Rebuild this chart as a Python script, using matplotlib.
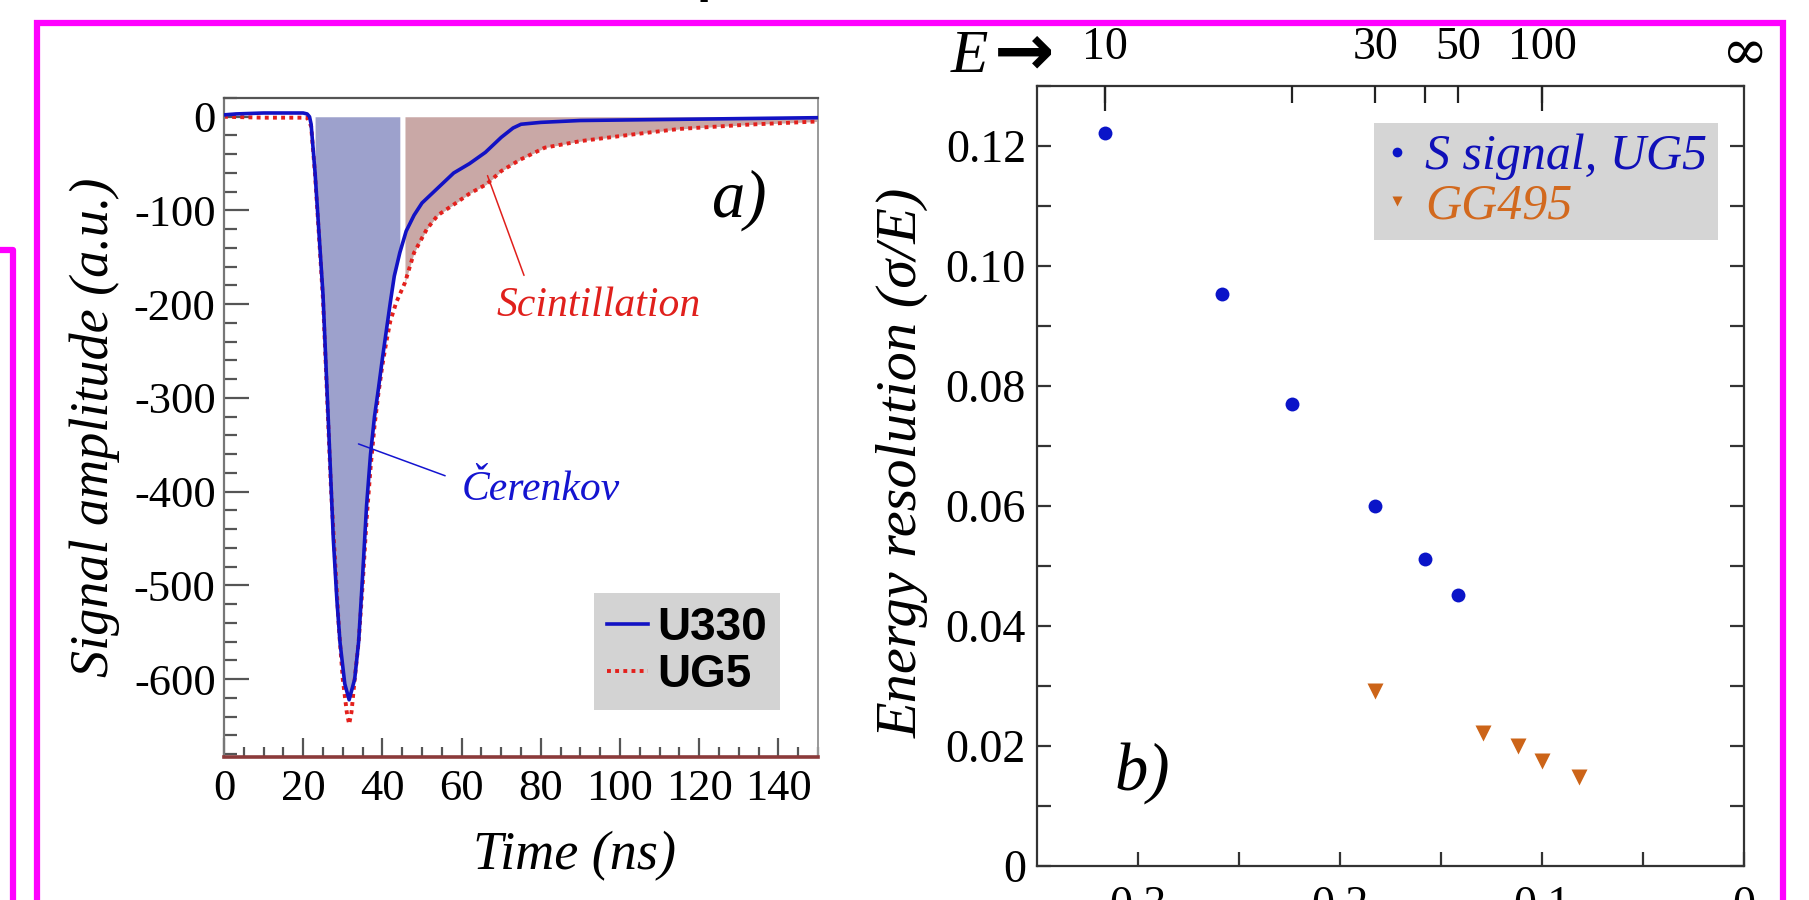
import numpy as np
import matplotlib
matplotlib.use("Agg")
import matplotlib.pyplot as plt
import matplotlib.transforms as mtransforms
from matplotlib.patches import Rectangle
from matplotlib.lines import Line2D
from matplotlib.ticker import MultipleLocator, FixedLocator

plt.rcParams['font.family'] = ['Liberation Serif', 'DejaVu Serif']
plt.rcParams['axes.unicode_minus'] = False

# ---------------- data: panel a (signal traces) ----------------
time_u330 = [0, 3, 10, 20, 21, 21.6, 22, 23, 24, 25, 26, 27, 27.6, 28.5, 29.3, 30.5, 31.6,
             33, 34, 35, 36, 37, 38, 39, 40, 41, 42, 43, 44.4, 46, 48, 50, 54, 58, 62,
             66, 70, 73, 75, 80, 90, 110, 130, 150]
amp_u330 = [2, 3, 4, 4, 3, 0, -8, -60, -125, -190, -290, -390, -450, -515, -561, -605, -622,
            -600, -560, -490, -415, -360, -320, -290, -258, -228, -198, -170, -145, -122, -105,
            -92, -76, -60, -50, -38, -22, -12, -8, -6, -4, -3, -2, -1]

time_ug5 = [0, 10, 21, 22, 23, 24, 25, 26, 27, 28, 29, 30, 31, 31.6, 32.2, 33, 34, 35, 36,
            37, 38, 39, 40, 41, 42, 43.5, 45.7, 48, 51.2, 54, 57.9, 62, 66.3, 70, 74.7, 81,
            90, 103, 115, 132, 150]
amp_ug5 = [0, -1, -1, -10, -62, -128, -195, -295, -395, -470, -545, -600, -635, -648, -635,
           -600, -560, -500, -430, -375, -330, -295, -265, -240, -218, -198, -177, -145, -120,
           -105, -94, -82, -72, -58, -46, -33, -26, -19, -13, -8.5, -5]

cerenkov_window = [23, 44.4]
scint_start = 45.7

# ---------------- data: panel b (energy resolution) ----------------
energy_s_ug5 = [10, 15, 20, 30, 40, 50]
res_s_ug5 = [0.1222, 0.0953, 0.0770, 0.0600, 0.0511, 0.0452]
energy_gg495 = [30, 60, 80, 100, 150]
res_gg495 = [0.0291, 0.0222, 0.0200, 0.0175, 0.0148]

top_E_labels = ['10', '30', '50', '100']
top_E_values = [10, 30, 50, 100]
bottom_x_ticks = [0.3, 0.2, 0.1, 0.0]
bottom_x_labels = ['0.3', '0.2', '0.1', '0']

W, H = 1809, 900
fig = plt.figure(figsize=(W / 100, H / 100), dpi=100)

# ================= panel a =================
ax1 = fig.add_axes([224 / W, 1 - 757 / H, 594 / W, 659 / H])
t_u = np.array(time_u330); a_u = np.array(amp_u330)
t_g = np.array(time_ug5); a_g = np.array(amp_ug5)

ax1.fill_between(t_u, a_u, 0, where=(t_u >= cerenkov_window[0]) & (t_u <= cerenkov_window[1]),
                 color='#9DA1CC', lw=0, zorder=1)
ax1.fill_between(t_g, a_g, 0, where=(t_g >= scint_start), color='#C9A8A6', lw=0, zorder=1)
ln_u, = ax1.plot(t_u, a_u, color='#1212C4', lw=2.6, zorder=3, label='U330')
ln_g, = ax1.plot(t_g, a_g, color='#E3201C', lw=2.8, ls=(0, (1, 1.1)), zorder=2, label='UG5')

ax1.set_xlim(0, 150)
ax1.set_ylim(-683, 20)
ax1.xaxis.set_major_locator(MultipleLocator(20))
ax1.xaxis.set_minor_locator(MultipleLocator(5))
ax1.yaxis.set_major_locator(FixedLocator([0, -100, -200, -300, -400, -500, -600]))
ax1.yaxis.set_minor_locator(MultipleLocator(20))
ax1.tick_params(axis='both', which='both', direction='in', top=False, right=False,
                colors='#555555', width=1.6, labelcolor='black', labelsize=32)
ax1.tick_params(axis='y', which='major', length=18, pad=6)
ax1.tick_params(axis='y', which='minor', length=9)
ax1.tick_params(axis='x', which='major', length=14, pad=9)
ax1.tick_params(axis='x', which='minor', length=7)
ax1.spines['top'].set_color('#555555'); ax1.spines['top'].set_linewidth(1.6)
ax1.spines['left'].set_color('#777777'); ax1.spines['left'].set_linewidth(1.6)
ax1.spines['right'].set_color('#999999'); ax1.spines['right'].set_linewidth(1.4)
ax1.spines['bottom'].set_color('#8B3A3A'); ax1.spines['bottom'].set_linewidth(2.6)

ax1.set_ylabel('Signal amplitude (a.u.)', fontsize=39, style='italic')
ax1.yaxis.set_label_coords(-0.175, 0.5)
ax1.set_xlabel('Time (ns)', fontsize=39, style='italic')
ax1.xaxis.set_label_coords(0.59, -0.112)

ax1.text(130, -89, 'a)', fontsize=48, style='italic', ha='center', va='center')
ax1.text(94.5, -202, 'Scintillation', fontsize=30, style='italic', color='#E0201C',
         ha='center', va='center')
ax1.annotate('', xy=(66.3, -60), xytext=(76, -172),
             arrowprops=dict(arrowstyle='-', color='#E0201C', lw=1.1))
ax1.text(80, -398, 'Čerenkov', fontsize=30, style='italic', color='#1414D0',
         ha='center', va='center')
ax1.annotate('', xy=(33.3, -348), xytext=(56.5, -384),
             arrowprops=dict(arrowstyle='-', color='#1414D0', lw=1.1))

leg1 = ax1.legend(handles=[ln_u, ln_g], loc='lower left', bbox_to_anchor=(0.623, 0.071),
                  prop=dict(family='Liberation Sans', weight='bold', size=33),
                  handlelength=0.9, handletextpad=0.2, borderpad=0.28, labelspacing=0.08,
                  frameon=True, fancybox=False, framealpha=1, borderaxespad=0)
leg1.get_frame().set_facecolor('#D3D3D3'); leg1.get_frame().set_edgecolor('none')

# ================= panel b =================
ax2 = fig.add_axes([1037 / W, 1 - 866 / H, 707 / W, 780 / H])
x_s = 1 / np.sqrt(np.array(energy_s_ug5, dtype=float))
x_g = 1 / np.sqrt(np.array(energy_gg495, dtype=float))
p1, = ax2.plot(x_s, res_s_ug5, 'o', color='#0A14C8', ms=10, mec='none',
               label='S signal, UG5', zorder=3)
p2, = ax2.plot(x_g, res_gg495, 'v', color='#CC6418', ms=11, mec='none', label='GG495', zorder=3)
ax2.set_xlim(0.35, 0.0)
ax2.set_ylim(0, 0.13)
ax2.set_xticks(bottom_x_ticks, bottom_x_labels)
ax2.xaxis.set_minor_locator(FixedLocator([0.25, 0.15, 0.05]))
ax2.yaxis.set_major_locator(FixedLocator([0, 0.02, 0.04, 0.06, 0.08, 0.10, 0.12]))
ax2.set_yticklabels(['0', '0.02', '0.04', '0.06', '0.08', '0.10', '0.12'])
ax2.yaxis.set_minor_locator(MultipleLocator(0.01))
ax2.tick_params(axis='both', which='both', direction='in', colors='#333333', width=1.6,
                labelcolor='black', labelsize=33, top=False, right=True)
ax2.tick_params(axis='y', which='both', length=10, pad=8)
ax2.tick_params(axis='x', which='both', length=10, pad=14)
for s in ax2.spines.values():
    s.set_color('#333333'); s.set_linewidth(1.6)
ax2.set_ylabel('Energy resolution (σ/E)', fontsize=42, style='italic')
ax2.yaxis.set_label_coords(-0.153, 0.517)

ax2.text(0.298, 0.0155, 'b)', fontsize=48, style='italic', ha='center', va='center')

leg2 = ax2.legend(handles=[p1, p2], loc='upper right', bbox_to_anchor=(0.963, 0.9526),
                  prop=dict(style='italic', size=36), markerscale=0.7,
                  handlelength=0.5, handletextpad=0.3, borderpad=0.22, labelspacing=0.05,
                  frameon=True, fancybox=False, framealpha=1, borderaxespad=0)
leg2.get_frame().set_facecolor('#D5D5D5'); leg2.get_frame().set_edgecolor('none')
leg2.get_texts()[0].set_color('#1010B8')
leg2.get_texts()[1].set_color('#D2691E')

# top energy axis
axt = ax2.twiny()
axt.set_xlim(ax2.get_xlim())
top_pos = [1 / np.sqrt(e) for e in top_E_values]
axt.set_xticks(top_pos, top_E_labels)
axt.xaxis.set_minor_locator(FixedLocator([1 / np.sqrt(20), 1 / np.sqrt(40)]))
axt.tick_params(axis='x', which='both', direction='in', length=12, width=1.6,
                colors='#222222', labelcolor='black', labelsize=33, pad=12)
for s in axt.spines.values():
    s.set_visible(False)
axl = ax2.secondary_xaxis('top')
axl.set_xticks([1 / np.sqrt(10), 1 / np.sqrt(100)], ['', ''])
axl.tick_params(axis='x', direction='in', length=18, width=1.6, colors='#222222')
axl.spines['top'].set_visible(False)

# infinity label at x = 0 (E -> infinity)
trans_top = mtransforms.blended_transform_factory(ax2.transData, ax2.transAxes)
ax2.text(0.0, 1.041, '∞', transform=trans_top, fontsize=40, family='DejaVu Serif',
         ha='center', va='center', clip_on=False)

fig.text(951 / W, 1 - 57 / H, 'E', fontsize=44, style='italic', ha='left', va='center')
fig.text(994 / W, 1 - 55 / H, '→', fontsize=52, family='DejaVu Sans', weight='bold',
         ha='left', va='center')

# partially cut caption glyph at top
fig.text(697 / W, 1 + 6.5 / H, 'p', fontsize=30, family='DejaVu Sans', weight='bold',
         ha='left', va='baseline')

# magenta frames
fig.add_artist(Rectangle((37 / W, -0.05), (1783 - 37) / W, 1.05 - 23 / H, transform=fig.transFigure,
                         fill=False, edgecolor='#FF00FF', lw=4.5))
fig.add_artist(Line2D([0, 13 / W, 13 / W], [1 - 250 / H, 1 - 250 / H, -0.05],
                      transform=fig.transFigure, color='#FF00FF', lw=4.5))

fig.savefig('out.png', dpi=100)
